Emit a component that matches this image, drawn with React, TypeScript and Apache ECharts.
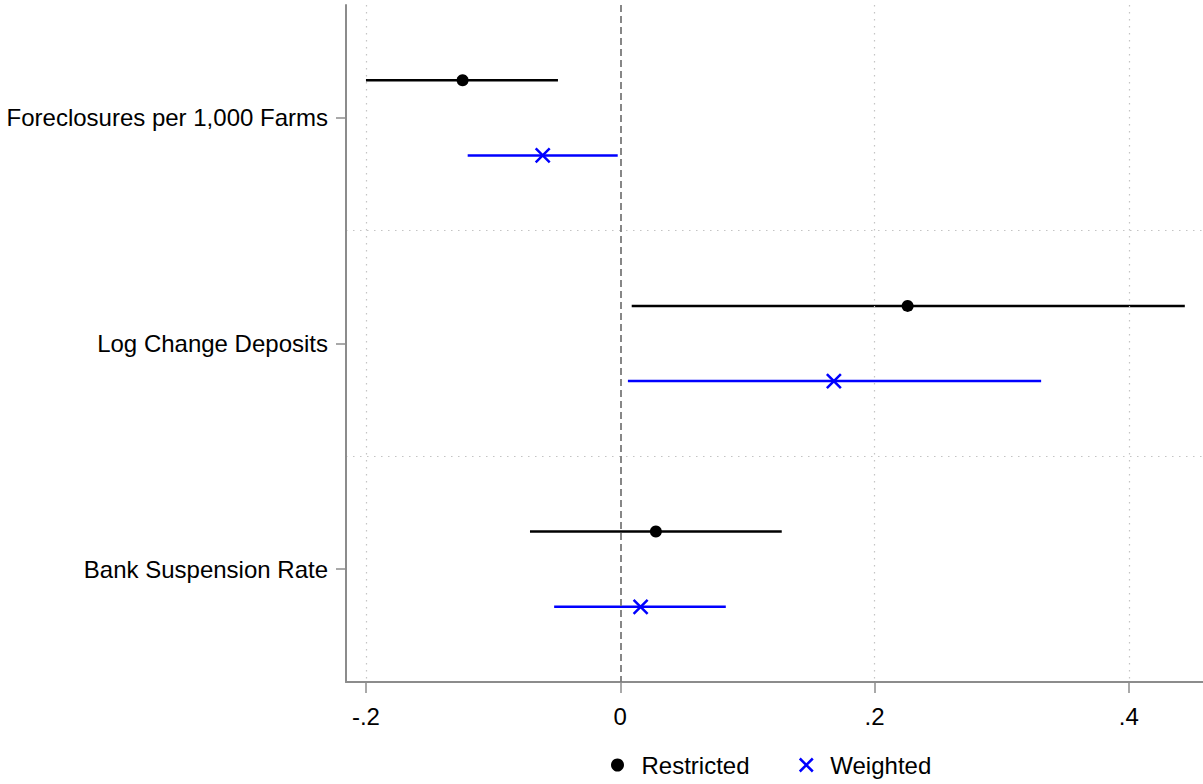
import React, { useEffect, useRef } from "react";
import * as echarts from "echarts";

const categories = ["Foreclosures per 1,000 Farms", "Log Change Deposits", "Bank Suspension Rate"];
const restrictedEst = [-0.124, 0.226, 0.028];
const restrictedLo = [-0.2, 0.009, -0.071];
const restrictedHi = [-0.049, 0.444, 0.127];
const weightedEst = [-0.061, 0.168, 0.016];
const weightedLo = [-0.12, 0.006, -0.052];
const weightedHi = [-0.002, 0.331, 0.083];
const xTickValues = [-0.2, 0, 0.2, 0.4];
const xTickLabels = ["-.2", "0", ".2", ".4"];
const seriesNames = ["Restricted", "Weighted"];

const X_MIN = -0.2157;
const X_MAX = 0.4583;
const FONT = "Liberation Sans, Arial, sans-serif";
const AXIS_GRAY = "#8c8c8c";
const BLUE = "#0000ff";
const CROSS = "path://M0,0L10,10M10,0L0,10";

export default function App() {
  const ref = useRef<HTMLDivElement>(null);
  useEffect(() => {
    if (!ref.current) return;
    const chart = echarts.init(ref.current, null, { renderer: "svg" });
    const rOff = 1 / 3;
    const wOff = 2 / 3;
    const rCI = categories.map((_, i) => [restrictedLo[i], restrictedHi[i], i + rOff]);
    const wCI = categories.map((_, i) => [weightedLo[i], weightedHi[i], i + wOff]);
    const rPts = categories.map((_, i) => [restrictedEst[i], i + rOff]);
    const wPts = categories.map((_, i) => [weightedEst[i], i + wOff]);
    const ciRender = (color: string) => (params: any, api: any) => {
      const p1 = api.coord([api.value(0), api.value(2)]);
      const p2 = api.coord([api.value(1), api.value(2)]);
      return {
        type: "line",
        shape: { x1: p1[0], y1: p1[1], x2: p2[0], y2: p2[1] },
        style: { stroke: color, lineWidth: 2.5 },
      };
    };
    const option: any = {
      animation: false,
      textStyle: { fontFamily: FONT },
      grid: { left: 346, right: 0, top: 5, bottom: 102, containLabel: false },
      legend: {
        bottom: 2,
        left: 606,
        itemWidth: 38,
        itemHeight: 13,
        itemGap: 49,
        textStyle: { fontSize: 24, color: "#000", fontFamily: FONT },
        data: [
          { name: seriesNames[0], icon: "circle", itemStyle: { color: "#000" } },
          {
            name: seriesNames[1],
            icon: CROSS,
            itemStyle: { color: "transparent", borderColor: BLUE, borderWidth: 2.5 },
          },
        ],
        selectedMode: false,
      },
      xAxis: {
        type: "value",
        min: X_MIN,
        max: X_MAX,
        axisLine: { show: true, onZero: false, lineStyle: { color: AXIS_GRAY, width: 2 } },
        axisTick: {
          show: true,
          customValues: xTickValues,
          length: 11,
          lineStyle: { color: AXIS_GRAY, width: 1.5 },
        },
        axisLabel: {
          customValues: xTickValues,
          fontSize: 24,
          color: "#000",
          margin: 22,
          fontFamily: FONT,
          formatter: (v: number) => {
            const idx = xTickValues.findIndex((t) => Math.abs(t - v) < 1e-9);
            return idx >= 0 ? xTickLabels[idx] : "";
          },
        },
        splitLine: { show: false },
      },
      yAxis: [
        {
          type: "category",
          data: categories,
          inverse: true,
          boundaryGap: true,
          axisLine: { show: true, onZero: false, lineStyle: { color: AXIS_GRAY, width: 2 } },
          axisTick: { show: true, alignWithLabel: true, length: 10, lineStyle: { color: AXIS_GRAY, width: 1.5 } },
          axisLabel: { fontSize: 24, color: "#000", margin: 18, fontFamily: FONT },
          splitLine: {
            show: true,
            showMinLine: false,
            showMaxLine: false,
            lineStyle: { color: "#c4c4c4", width: 1.2, type: [1.5, 5.5] },
          },
        },
        { type: "value", min: 0, max: 3, inverse: true, show: false },
      ],
      series: [
        {
          name: "Restricted CI",
          type: "custom",
          xAxisIndex: 0,
          yAxisIndex: 1,
          data: rCI,
          renderItem: ciRender("#000"),
          encode: { x: [0, 1], y: 2 },
          z: 3,
          markLine: {
            silent: true,
            symbol: "none",
            label: { show: false },
            data: xTickValues.map((v) =>
              v === 0
                ? { xAxis: v, lineStyle: { color: "#7a7a7a", width: 1.8, type: [7, 4] } }
                : { xAxis: v, lineStyle: { color: "#c4c4c4", width: 1.2, type: [1.5, 5.5] } }
            ),
          },
        },
        {
          name: "Weighted CI",
          type: "custom",
          xAxisIndex: 0,
          yAxisIndex: 1,
          data: wCI,
          renderItem: ciRender(BLUE),
          encode: { x: [0, 1], y: 2 },
          z: 3,
        },
        {
          name: seriesNames[0],
          type: "scatter",
          xAxisIndex: 0,
          yAxisIndex: 1,
          data: rPts,
          symbol: "circle",
          symbolSize: 12,
          itemStyle: { color: "#000", opacity: 1 },
          z: 5,
        },
        {
          name: seriesNames[1],
          type: "scatter",
          xAxisIndex: 0,
          yAxisIndex: 1,
          data: wPts,
          symbol: CROSS,
          symbolSize: 14,
          itemStyle: { color: "transparent", borderColor: BLUE, borderWidth: 2.5, opacity: 1 },
          z: 5,
        },
      ],
    };
    chart.setOption(option);
    return () => chart.dispose();
  }, []);
  return (
    <div
      ref={ref}
      style={{ position: "absolute", left: 0, top: 0, width: 1203, height: 784, background: "#fff" }}
    />
  );
}
